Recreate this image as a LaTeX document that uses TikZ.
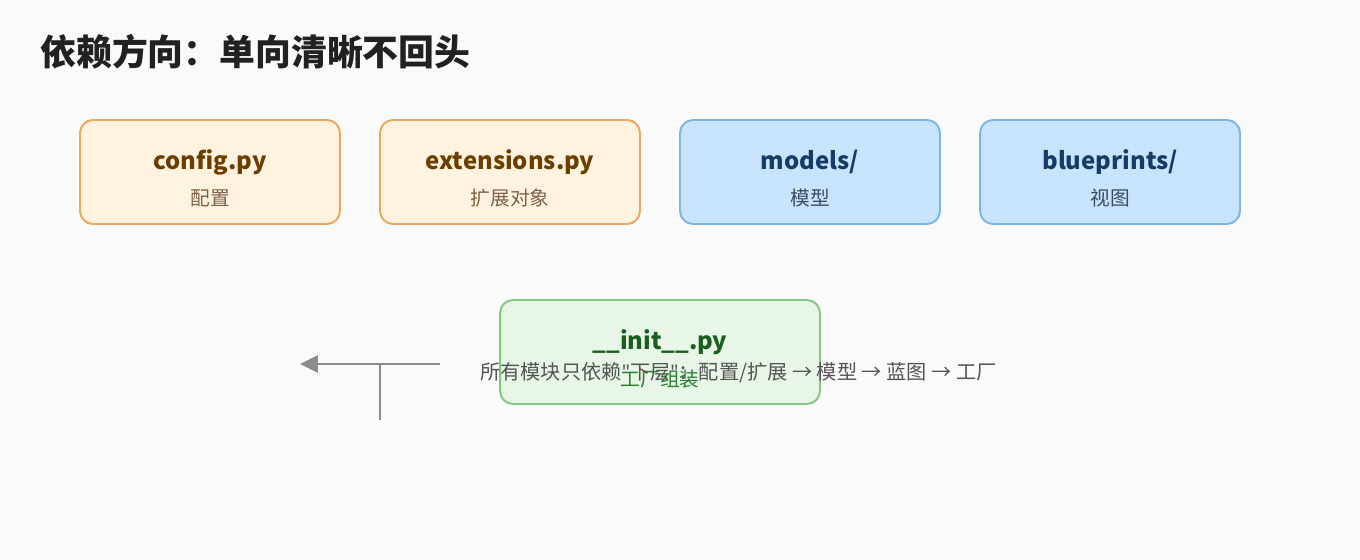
\documentclass[tikz,border=0pt]{standalone}
\usepackage{fontspec}
\setmainfont{Noto Sans CJK SC}
\newfontfamily\latinfont{Noto Sans}
\usetikzlibrary{positioning,arrows.meta}
\definecolor{bgcol}{HTML}{FAFAFA}
\definecolor{orgfill}{HTML}{FFF3E0}
\definecolor{orgline}{HTML}{E8A860}
\definecolor{orgtext}{HTML}{6B3E00}
\definecolor{orgsub}{HTML}{7D6245}
\definecolor{bluefill}{HTML}{C8E3FC}
\definecolor{blueline}{HTML}{7DB6E6}
\definecolor{bluetext}{HTML}{143C66}
\definecolor{bluesub}{HTML}{3A4C62}
\definecolor{grnfill}{HTML}{E8F6E8}
\definecolor{grnline}{HTML}{82C882}
\definecolor{grntext}{HTML}{1B5E20}
\definecolor{grnsub}{HTML}{2E7D32}
\definecolor{arrowgray}{HTML}{8C8C8C}

\begin{document}
\begin{tikzpicture}[x=0.02cm, y=-0.02cm,
    block/.style={rectangle, rounded corners=0.26cm, line width=1.1pt, minimum width=5.2cm, minimum height=2.08cm},
    orgblock/.style={block, draw=orgline, fill=orgfill},
    blueblock/.style={block, draw=blueline, fill=bluefill},
    grnblock/.style={block, draw=grnline, fill=grnfill, minimum width=6.4cm},
    modname/.style={anchor=base, font=\fontsize{13.6pt}{16pt}\selectfont\bfseries, inner sep=0pt},
    modsub/.style={anchor=base, font=\fontsize{11.2pt}{13pt}\selectfont, inner sep=0pt}]
    \fill[bgcol] (0,0) rectangle (1360,560);
    \useasboundingbox (0,0) rectangle (1360,560);
    \node[anchor=base west, inner sep=0pt, text=black!87, font=\fontsize{20.4pt}{24pt}\selectfont\bfseries] (title) at (40,66) {依赖方向：单向清晰不回头};
    % top row
    \node[orgblock] (config) at (210,172) {};
    \node[modname, text=orgtext] (configname) at (210,170) {config.py};
    \node[modsub, text=orgsub] (configsub) at (210,206) {配置};
    \node[orgblock] (ext) at (510,172) {};
    \node[modname, text=orgtext] (extname) at (510,170) {extensions.py};
    \node[modsub, text=orgsub] (extsub) at (510,206) {扩展对象};
    \node[blueblock] (models) at (810,172) {};
    \node[modname, text=bluetext] (modelsname) at (810,170) {models/};
    \node[modsub, text=bluesub] (modelssub) at (810,206) {模型};
    \node[blueblock] (bp) at (1110,172) {};
    \node[modname, text=bluetext] (bpname) at (1110,170) {blueprints/};
    \node[modsub, text=bluesub] (bpsub) at (1110,206) {视图};
    % factory
    \node[grnblock] (init) at (660,352) {};
    \node[modname, text=grntext] (initname) at (660,350) {\_\_init\_\_.py};
    \node[modsub, text=grnsub] (initsub) at (660,387) {工厂组装};
    % arrow
    \coordinate (arrstart) at (440,364);
    \coordinate (arrend) at (300,364);
    \coordinate (stemtop) at (380,364);
    \coordinate (stembot) at (380,420);
    \draw[arrowgray, line width=1.7pt, -{Triangle[length=0.36cm, width=0.34cm]}] (arrstart) -- (arrend);
    \draw[arrowgray, line width=1.7pt] (stemtop) -- (stembot);
    \node[anchor=base west, inner sep=0pt, text=black!67, font=\fontsize{11.5pt}{13pt}\selectfont] (note) at (480,380) {所有模块只依赖{\latinfont"}下层{\latinfont"}：配置/扩展 → 模型 → 蓝图 → 工厂};
\end{tikzpicture}
\end{document}
